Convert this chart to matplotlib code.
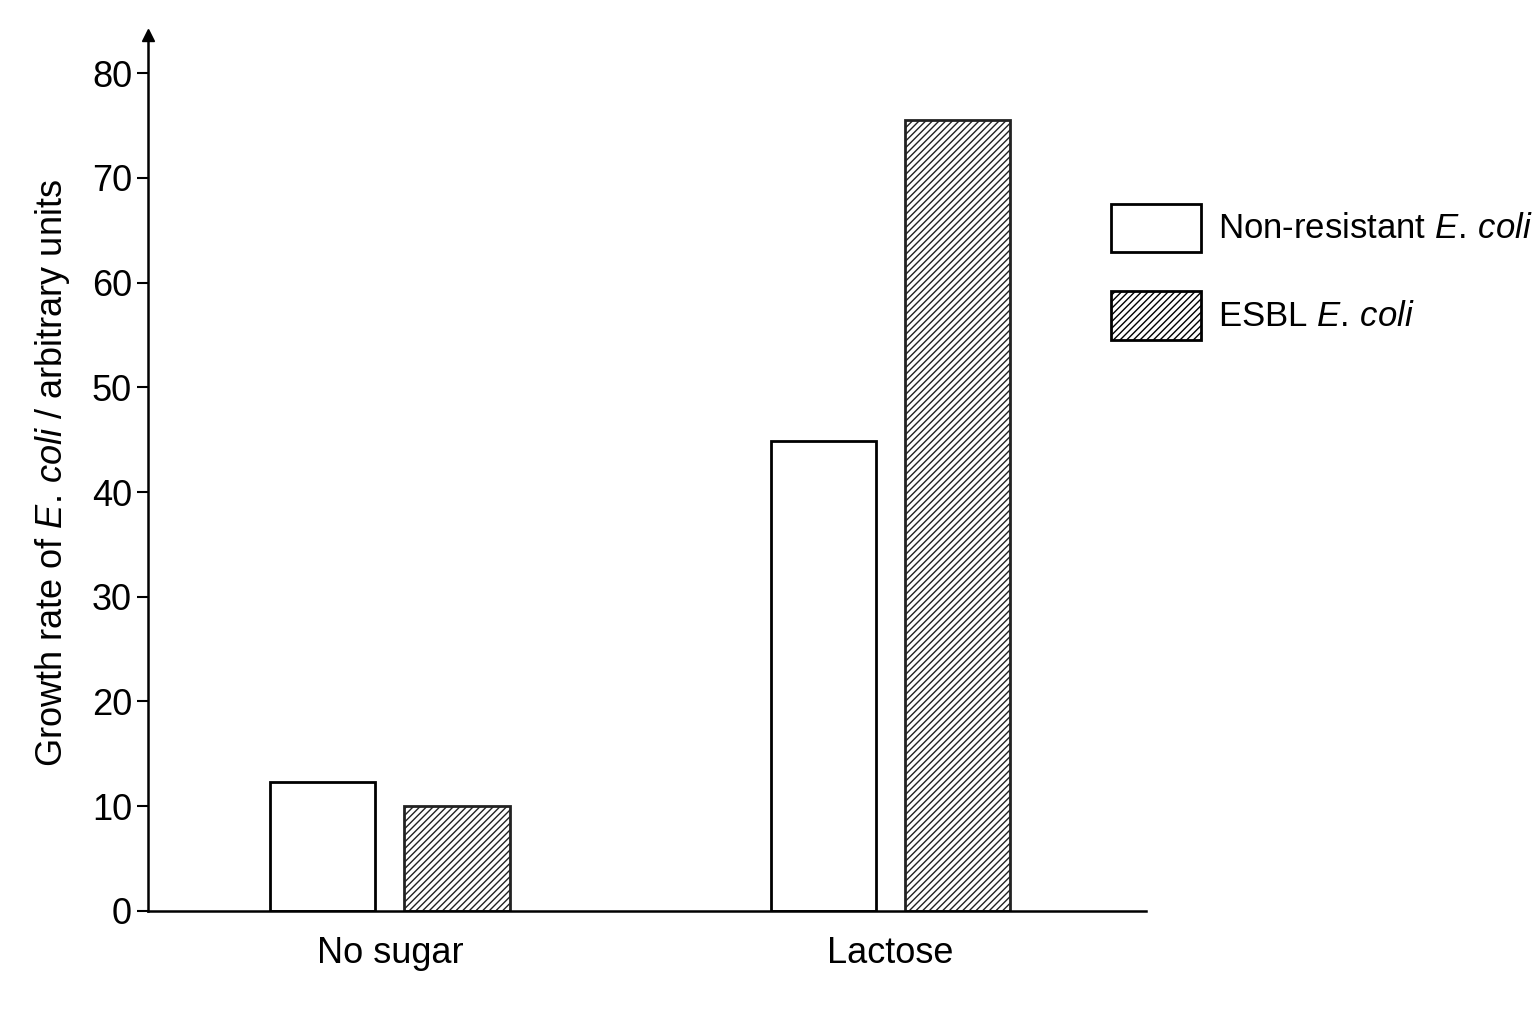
import matplotlib
matplotlib.use("Agg")
import matplotlib.pyplot as plt
from matplotlib.patches import Rectangle

categories = ["No sugar", "Lactose"]
non_resistant = [12.3, 44.9]
esbl = [10.0, 75.5]
yticks = [0, 10, 20, 30, 40, 50, 60, 70, 80]

plt.rcParams['font.family'] = ['Liberation Sans', 'DejaVu Sans']
plt.rcParams['mathtext.fontset'] = 'custom'
plt.rcParams['mathtext.rm'] = 'Liberation Sans'
plt.rcParams['mathtext.it'] = 'Liberation Sans:italic'
plt.rcParams['hatch.linewidth'] = 1.0
fig = plt.figure(figsize=(15.36, 10.24), dpi=100)
ax = fig.add_axes([0.0964, 0.1104, 0.650, 0.855])
x = range(len(categories))
w = 0.21
ax.bar([i - 0.134 for i in x], non_resistant, w, facecolor='white', edgecolor='black', linewidth=2)
ax.bar([i + 0.134 for i in x], esbl, w, facecolor='white', edgecolor='#222', linewidth=2, hatch='/////')
ax.set_xlim(-0.483, 1.511)
ax.set_ylim(0, 83.6)
ax.set_yticks(yticks)
ax.set_xticks(list(x))
ax.set_xticklabels(categories)
ax.tick_params(axis='both', labelsize=26, width=1.5, length=8)
ax.tick_params(axis='x', length=0, pad=18)
for s in ['top', 'right']:
    ax.spines[s].set_visible(False)
ax.spines['left'].set_linewidth(1.8)
ax.spines['bottom'].set_linewidth(1.8)
ax.plot(0, 1, '^k', markersize=9, transform=ax.transAxes, clip_on=False)
ax.set_ylabel("Growth rate of $\\it{E.\\,coli}$ / arbitrary units", fontsize=26, labelpad=14)

W, H = 1536, 1024
def box(x0, y0, x1, y1, hatch=None):
    fig.patches.append(Rectangle((x0 / W, 1 - y1 / H), (x1 - x0) / W, (y1 - y0) / H,
                                 transform=fig.transFigure, facecolor='white',
                                 edgecolor='black', linewidth=2, hatch=hatch))
box(1111, 204, 1201, 252)
box(1111, 291, 1201, 340, hatch='/////')
fig.text(1218 / W, 1 - 229 / H, "Non-resistant $\\it{E.\\,coli}$", fontsize=25, va='center')
fig.text(1218 / W, 1 - 317 / H, "ESBL $\\it{E.\\,coli}$", fontsize=25, va='center')
fig.savefig("out.png", dpi=100, facecolor='white')
